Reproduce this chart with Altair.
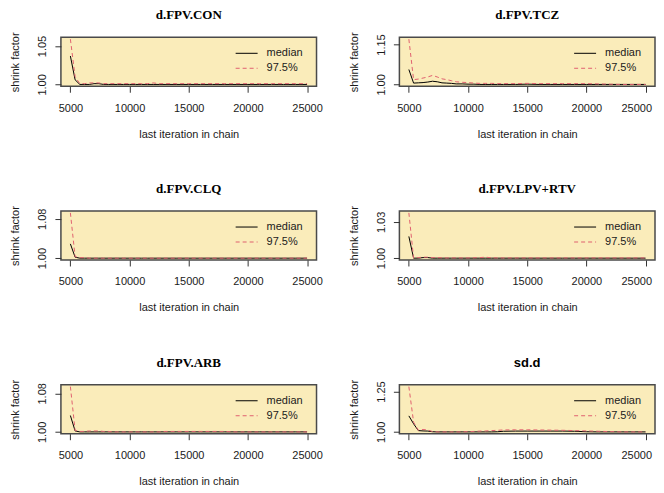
import altair as alt
import pandas as pd

# ---------------- data ----------------
ITER = [5000, 5400, 5800, 6200, 6600, 7000, 7400, 7800, 8200, 8600, 9000, 9500,
        10000, 10500, 11000, 11500, 12000, 12500, 13000, 14000, 15000, 16000,
        17000, 18000, 19000, 20000, 21000, 22000, 23000, 24000, 25000]

TITLES = ["d.FPV.CON", "d.FPV.TCZ", "d.FPV.CLQ", "d.FPV.LPV+RTV", "d.FPV.ARB", "sd.d"]

CON_MED = [1.037, 1.006, 1.000, 1.000, 1.000, 1.001, 1.001, 1.000, 1.000, 1.000, 1.000, 1.000,
           1.000, 1.000, 1.000, 1.000, 1.000, 1.000, 1.000, 1.000, 1.000, 1.000,
           1.000, 1.000, 1.000, 1.000, 1.000, 1.000, 1.000, 1.000, 1.000]
CON_Q = [1.059, 1.010, 1.001, 1.001, 1.002, 1.002, 1.002, 1.001, 1.001, 1.001, 1.001, 1.001,
         1.001, 1.001, 1.001, 1.001, 1.002, 1.001, 1.001, 1.001, 1.001, 1.001,
         1.001, 1.001, 1.001, 1.001, 1.001, 1.001, 1.001, 1.001, 1.001]

TCZ_MED = [1.056, 1.005, 1.006, 1.007, 1.009, 1.012, 1.010, 1.006, 1.005, 1.004, 1.002, 1.002,
           1.001, 1.001, 1.000, 1.000, 1.000, 1.000, 1.000, 1.000, 1.001, 1.000,
           1.000, 1.000, 1.000, 1.000, 1.000, 1.000, 1.000, 1.000, 1.000]
TCZ_Q = [1.170, 1.018, 1.020, 1.024, 1.028, 1.034, 1.028, 1.021, 1.018, 1.014, 1.010, 1.008,
         1.007, 1.005, 1.004, 1.004, 1.004, 1.003, 1.003, 1.003, 1.004, 1.003,
         1.003, 1.003, 1.003, 1.003, 1.002, 1.001, 1.000, 1.000, 1.000]

CLQ_MED = [1.029, 1.002, 1.000, 1.000, 1.000, 1.000, 1.000, 1.000, 1.000, 1.000, 1.000, 1.000,
           1.000, 1.000, 1.000, 1.000, 1.000, 1.000, 1.000, 1.000, 1.000, 1.000,
           1.000, 1.000, 1.000, 1.000, 1.000, 1.000, 1.000, 1.000, 1.000]
CLQ_Q = [1.092, 1.003, 1.001, 1.001, 1.000, 1.000, 1.000, 1.000, 1.000, 1.000, 1.000, 1.000,
         1.000, 1.000, 1.000, 1.000, 1.000, 1.000, 1.000, 1.000, 1.000, 1.000,
         1.000, 1.000, 1.000, 1.000, 1.000, 1.000, 1.000, 1.000, 1.000]

LPV_MED = [1.018, 1.000, 1.000, 1.0005, 1.0005, 1.000, 1.000, 1.000, 1.000, 1.000, 1.000, 1.000,
           1.000, 1.000, 1.000, 1.000, 1.000, 1.000, 1.000, 1.000, 1.000, 1.000,
           1.000, 1.000, 1.000, 1.000, 1.000, 1.000, 1.000, 1.000, 1.000]
LPV_Q = [1.0375, 1.000, 1.0005, 1.0008, 1.0008, 1.0005, 1.0005, 1.0003, 1.0002, 1.0002, 1.0002, 1.0002,
         1.0002, 1.0003, 1.0005, 1.0008, 1.0003, 1.0002, 1.0002, 1.0002, 1.0002, 1.0002,
         1.0002, 1.0002, 1.0002, 1.0002, 1.0002, 1.0002, 1.0002, 1.0002, 1.0002]

ARB_MED = [1.034, 1.002, 1.000, 1.000, 1.000, 1.000, 1.000, 1.000, 1.000, 1.000, 1.000, 1.000,
           1.000, 1.000, 1.000, 1.000, 1.000, 1.000, 1.000, 1.000, 1.000, 1.000,
           1.000, 1.000, 1.000, 1.000, 1.000, 1.000, 1.000, 1.000, 1.000]
ARB_Q = [1.094, 1.003, 1.001, 1.001, 1.002, 1.002, 1.002, 1.001, 1.001, 1.000, 1.000, 1.000,
         1.000, 1.000, 1.000, 1.000, 1.000, 1.000, 1.001, 1.001, 1.001, 1.001,
         1.001, 1.001, 1.000, 1.000, 1.000, 1.000, 1.000, 1.000, 1.000]

SD_MED = [1.099, 1.050, 1.008, 1.006, 1.005, 1.001, 1.000, 1.000, 1.000, 1.000, 1.000, 1.000,
          1.000, 1.000, 1.000, 1.000, 1.000, 1.001, 1.004, 1.005, 1.005, 1.005,
          1.005, 1.005, 1.004, 1.001, 1.000, 1.000, 1.000, 1.000, 1.000]
SD_Q = [1.280, 1.060, 1.010, 1.015, 1.012, 1.002, 1.000, 1.000, 1.000, 1.000, 1.000, 1.000,
        1.002, 1.003, 1.005, 1.006, 1.008, 1.010, 1.012, 1.013, 1.013, 1.012,
        1.011, 1.010, 1.008, 1.006, 1.004, 1.002, 1.000, 1.000, 1.000]

MEDIANS = [CON_MED, TCZ_MED, CLQ_MED, LPV_MED, ARB_MED, SD_MED]
UPPERS = [CON_Q, TCZ_Q, CLQ_Q, LPV_Q, ARB_Q, SD_Q]

Y_TICKS = [
    [1.00, 1.01, 1.02, 1.03, 1.04, 1.05],
    [1.00, 1.05, 1.10, 1.15],
    [1.00, 1.02, 1.04, 1.06, 1.08],
    [1.00, 1.01, 1.02, 1.03],
    [1.00, 1.02, 1.04, 1.06, 1.08],
    [1.00, 1.05, 1.10, 1.15, 1.20, 1.25],
]
Y_LABELED = [[1.00, 1.05], [1.00, 1.15], [1.00, 1.08], [1.00, 1.03], [1.00, 1.08], [1.00, 1.25]]
X_TICKS = [5000, 10000, 15000, 20000, 25000]
LEGEND_LABELS = ["median", "97.5%"]

# ---------------- style ----------------
W, H = 256, 49
BG = "#FAECBA"
RED = "#E0606F"
SANS = "Liberation Sans"
SERIF = "Liberation Serif"
TXT = "#1a1a1a"


def panel(i):
    df = pd.DataFrame({"iter": ITER, "median": MEDIANS[i], "q975": UPPERS[i]})
    lo = min(min(MEDIANS[i]), min(UPPERS[i]))
    hi = max(max(MEDIANS[i]), max(UPPERS[i]))
    ext = 0.04 * (hi - lo)
    xlo, xhi = min(ITER), max(ITER)
    xext = 0.04 * (xhi - xlo)
    a, b = Y_LABELED[i]
    label_expr = (f"(abs(datum.value - {a}) < 1e-6 || abs(datum.value - {b}) < 1e-6)"
                  " ? format(datum.value, '.2f') : ''")

    right_col = (i % 2 == 1)
    x_axis_kw = dict(values=X_TICKS, format="d", title="last iteration in chain",
                     titleX=W / 2, titleY=48, titleBaseline="middle",
                     labelPadding=10, labelFlush=False, labelOverlap=False)
    if right_col:
        # last label would run past the page edge; keep it inside the page
        x_axis_kw["labelAlign"] = {"condition": {"test": f"datum.value == {max(X_TICKS)}",
                                                 "value": "right"},
                                   "value": "center"}
        x_axis_kw["labelOffset"] = {"condition": {"test": f"datum.value == {max(X_TICKS)}",
                                                  "value": 6},
                                    "value": 0}

    x = alt.X("iter:Q",
              scale=alt.Scale(domain=[xlo - xext, xhi + xext], nice=False, zero=False),
              axis=alt.Axis(**x_axis_kw))
    y_axis = alt.Axis(values=Y_TICKS[i], labelExpr=label_expr, labelAngle=270,
                      labelAlign="center", labelBaseline="alphabetic", labelPadding=9,
                      labelOverlap=False, title="shrink factor", titleAngle=270,
                      titleX=-45, titleY=H / 2, titleAlign="center", titleBaseline="middle")
    base = alt.Chart(df)
    med = base.mark_line(color="black", strokeWidth=1, clip=True).encode(
        x=x,
        y=alt.Y("median:Q", scale=alt.Scale(domain=[lo - ext, hi + ext], nice=False, zero=False),
                axis=y_axis))
    upp = base.mark_line(color=RED, strokeWidth=1, strokeDash=[4, 3], clip=True).encode(
        x="iter:Q", y="q975:Q")

    leg1 = alt.Chart(pd.DataFrame({"label": [LEGEND_LABELS[0]]}))
    leg2 = alt.Chart(pd.DataFrame({"label": [LEGEND_LABELS[1]]}))
    r1 = leg1.mark_rule(color="black", strokeWidth=1).encode(
        x=alt.value(175), x2=alt.value(197), y=alt.value(16))
    r2 = leg2.mark_rule(color=RED, strokeWidth=1, strokeDash=[4, 3]).encode(
        x=alt.value(175), x2=alt.value(197), y=alt.value(31))
    t1 = leg1.mark_text(align="left", baseline="middle", font=SANS, fontSize=11, color=TXT).encode(
        text="label:N", x=alt.value(206), y=alt.value(16))
    t2 = leg2.mark_text(align="left", baseline="middle", font=SANS, fontSize=11, color=TXT).encode(
        text="label:N", x=alt.value(206), y=alt.value(31))

    title_font = SANS if TITLES[i] == "sd.d" else SERIF
    ttl = alt.Chart(pd.DataFrame({"t": [TITLES[i]]})).mark_text(
        align="center", baseline="alphabetic", font=title_font, fontSize=13,
        fontWeight="bold", color="black").encode(
        text="t:N", x=alt.value(W / 2), y=alt.value(-18))

    return alt.layer(med, upp, r1, r2, t1, t2, ttl).properties(width=W, height=H)


chart = alt.concat(*[panel(i) for i in range(6)], columns=2,
                   spacing={"row": 125, "column": 83}, bounds="flush").properties(
    padding={"left": 1, "top": 0, "right": 0, "bottom": 0}
).configure_view(
    fill=BG, stroke="#4a4a4a", strokeWidth=1.5
).configure_axis(
    domain=False, grid=False, ticks=True, tickSize=6, tickColor="#333333", tickWidth=1,
    labelFont=SANS, labelFontSize=11, labelColor=TXT,
    titleFont=SANS, titleFontSize=11, titleFontWeight="normal", titleColor=TXT
)

chart.save("out.html", embed_options={"renderer": "svg", "actions": False})
